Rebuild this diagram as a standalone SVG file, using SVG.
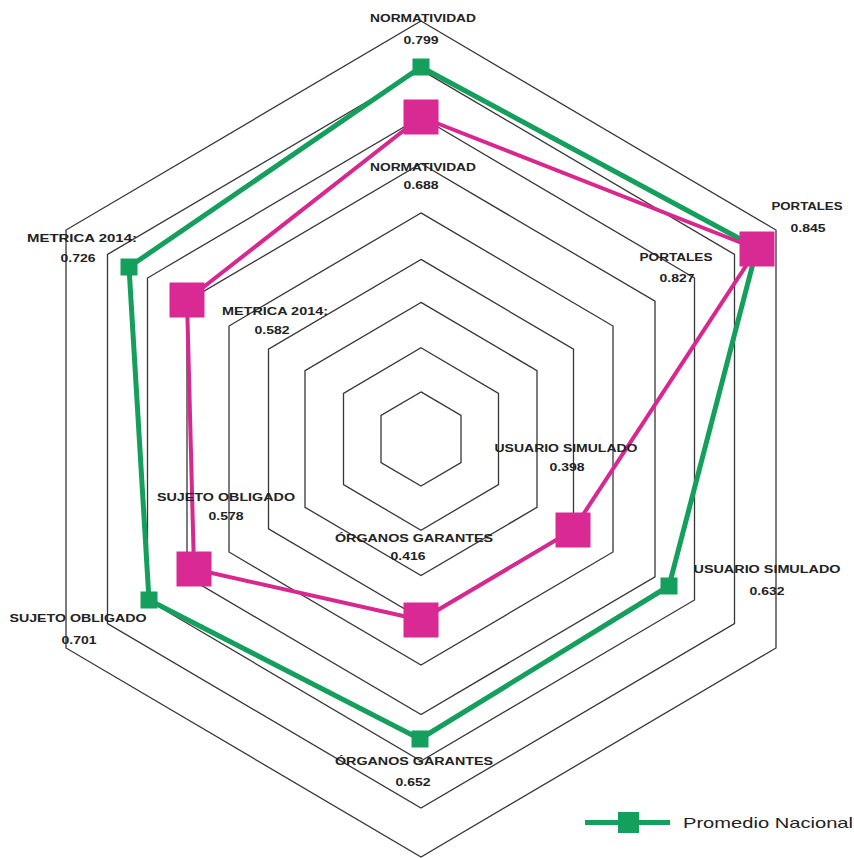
<svg xmlns="http://www.w3.org/2000/svg" width="854" height="858" viewBox="0 0 854 858">
<style>
.grid{fill:none;stroke:#363636;stroke-width:1.3}
.gline{fill:none;stroke:#14a05c;stroke-width:5;stroke-linejoin:round}
.pline{fill:none;stroke:#d8288f;stroke-width:4;stroke-linejoin:round}
.gsq{fill:#14a05c}
.psq{fill:#d92a94}
.lbl{font-family:"Liberation Sans",Arial,sans-serif;font-weight:bold;font-size:11.5px;fill:#222;text-anchor:middle}
.leg{font-family:"Liberation Sans",Arial,sans-serif;font-size:15px;fill:#222}
</style>
<rect width="854" height="858" fill="#fff"/>
<g id="grid">
<polygon class="grid" points="421,391.9 461,415.45 461,462.55 421,486.1 381,462.55 381,415.45"/>
<polygon class="grid" points="421,347.7 498.5,393.4 498.5,484.6 421,530.3 343.5,484.6 343.5,393.4"/>
<polygon class="grid" points="421,302.4 537,370.7 537,507.3 421,575.6 305,507.3 305,370.7"/>
<polygon class="grid" points="421,259.4 573.5,349.2 573.5,528.8 421,618.6 268.5,528.8 268.5,349.2"/>
<polygon class="grid" points="421,212.9 613,326 613,552 421,665.1 229,552 229,326"/>
<polygon class="grid" points="421,163.5 655,301.2 655,576.8 421,714.5 187,576.8 187,301.2"/>
<polygon class="grid" points="421,117 694.5,278 694.5,600 421,761 147.5,600 147.5,278"/>
<polygon class="grid" points="421,69.9 734.5,254.4 734.5,623.6 421,808.1 107.5,623.6 107.5,254.4"/>
<polygon class="grid" points="421,21 776,230 776,648 421,857 66,648 66,230"/>
</g>
<g id="connectors">
<polygon class="gline" points="421,67 757,248 669,586 420,739 149,600 129,267"/>
<polygon class="pline" points="421,117 757,249 573,530 421,620 194,569 187,300"/>
</g>
<g id="nacional-points">
<rect class="gsq" x="412.5" y="58.5" width="17" height="17"/>
<rect class="gsq" x="748.5" y="239.5" width="17" height="17"/>
<rect class="gsq" x="660.5" y="577.5" width="17" height="17"/>
<rect class="gsq" x="411.5" y="730.5" width="17" height="17"/>
<rect class="gsq" x="140.5" y="591.5" width="17" height="17"/>
<rect class="gsq" x="120.5" y="258.5" width="17" height="17"/>
</g>
<g id="entidad-points">
<rect class="psq" x="403.5" y="99.5" width="35" height="35"/>
<rect class="psq" x="739.5" y="231.5" width="35" height="35"/>
<rect class="psq" x="555.5" y="512.5" width="35" height="35"/>
<rect class="psq" x="403.5" y="602.5" width="35" height="35"/>
<rect class="psq" x="176.5" y="551.5" width="35" height="35"/>
<rect class="psq" x="169.5" y="282.5" width="35" height="35"/>
</g>
<g id="labels">
<g id="lbl-normatividad-nac"><text class="lbl" x="423" y="22" textLength="106" lengthAdjust="spacingAndGlyphs">NORMATIVIDAD</text><text class="lbl" x="421" y="44" textLength="35" lengthAdjust="spacingAndGlyphs">0.799</text></g>
<g id="lbl-normatividad"><text class="lbl" x="423" y="171" textLength="106" lengthAdjust="spacingAndGlyphs">NORMATIVIDAD</text><text class="lbl" x="421" y="189" textLength="35" lengthAdjust="spacingAndGlyphs">0.688</text></g>
<g id="lbl-portales-nac"><text class="lbl" x="807" y="210" textLength="71" lengthAdjust="spacingAndGlyphs">PORTALES</text><text class="lbl" x="808" y="232" textLength="35" lengthAdjust="spacingAndGlyphs">0.845</text></g>
<g id="lbl-portales"><text class="lbl" x="676" y="261" textLength="73" lengthAdjust="spacingAndGlyphs">PORTALES</text><text class="lbl" x="677" y="282" textLength="35" lengthAdjust="spacingAndGlyphs">0.827</text></g>
<g id="lbl-usuario"><text class="lbl" x="566" y="452" textLength="143" lengthAdjust="spacingAndGlyphs">USUARIO SIMULADO</text><text class="lbl" x="567" y="471" textLength="35" lengthAdjust="spacingAndGlyphs">0.398</text></g>
<g id="lbl-usuario-nac"><text class="lbl" x="767" y="573" textLength="147" lengthAdjust="spacingAndGlyphs">USUARIO SIMULADO</text><text class="lbl" x="767" y="595" textLength="35" lengthAdjust="spacingAndGlyphs">0.632</text></g>
<g id="lbl-organos"><text class="lbl" x="414" y="542" textLength="158" lengthAdjust="spacingAndGlyphs">ÓRGANOS GARANTES</text><text class="lbl" x="408" y="560" textLength="35" lengthAdjust="spacingAndGlyphs">0.416</text></g>
<g id="lbl-organos-nac"><text class="lbl" x="414" y="765" textLength="158" lengthAdjust="spacingAndGlyphs">ÓRGANOS GARANTES</text><text class="lbl" x="413" y="786" textLength="35" lengthAdjust="spacingAndGlyphs">0.652</text></g>
<g id="lbl-sujeto"><text class="lbl" x="226" y="501" textLength="138" lengthAdjust="spacingAndGlyphs">SUJETO OBLIGADO</text><text class="lbl" x="226" y="520" textLength="35" lengthAdjust="spacingAndGlyphs">0.578</text></g>
<g id="lbl-sujeto-nac"><text class="lbl" x="78" y="622" textLength="137" lengthAdjust="spacingAndGlyphs">SUJETO OBLIGADO</text><text class="lbl" x="79" y="644" textLength="35" lengthAdjust="spacingAndGlyphs">0.701</text></g>
<g id="lbl-metrica-nac"><text class="lbl" x="82" y="242" textLength="110" lengthAdjust="spacingAndGlyphs">METRICA 2014:</text><text class="lbl" x="78" y="262" textLength="35" lengthAdjust="spacingAndGlyphs">0.726</text></g>
<g id="lbl-metrica"><text class="lbl" x="275" y="315" textLength="106" lengthAdjust="spacingAndGlyphs">METRICA 2014:</text><text class="lbl" x="272" y="334" textLength="35" lengthAdjust="spacingAndGlyphs">0.582</text></g>
</g>
<g id="legend">
<line x1="585" y1="822.5" x2="670" y2="822.5" stroke="#14a05c" stroke-width="5"/>
<rect class="gsq" x="618" y="812" width="21" height="21"/>
<text class="leg" x="683" y="828" textLength="170" lengthAdjust="spacingAndGlyphs">Promedio Nacional</text>
</g>
</svg>
